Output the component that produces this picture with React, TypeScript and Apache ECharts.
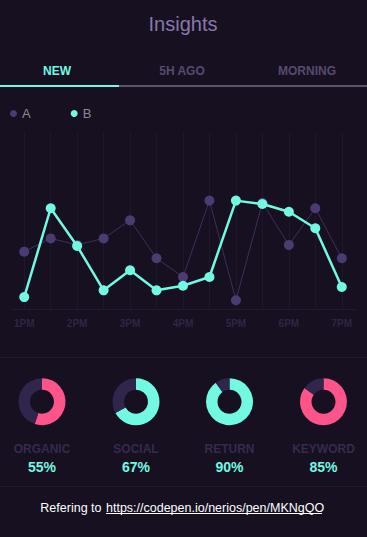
import React, { useEffect, useRef } from "react";
import * as echarts from "echarts";

const categories = ["1PM", "1:30PM", "2PM", "2:30PM", "3PM", "3:30PM", "4PM", "4:30PM", "5PM", "5:30PM", "6PM", "6:30PM", "7PM"];
const seriesA = [32.5, 40, 36.3, 40, 50.2, 28.8, 18.2, 61.3, 5.1, 60.1, 36.3, 57, 28.8];
const seriesB = [6.9, 57, 35.7, 10.7, 22, 10.7, 13.3, 18.2, 61.3, 59.4, 55, 45.7, 12.6];
const tabs = ["NEW", "5H AGO", "MORNING"];
const donutNames = ["ORGANIC", "SOCIAL", "RETURN", "KEYWORD"];
const donutValues = [55, 67, 90, 85];
const donutColors = ["#fd5489", "#72f9e1", "#72f9e1", "#fd5489"];

const BG = "#161021";
const TEAL = "#72f9e1";
const FONT = "Arial, 'Liberation Sans', Helvetica, sans-serif";

export default function App() {
  const ref = useRef<HTMLDivElement>(null);
  useEffect(() => {
    const chart = echarts.init(ref.current!, null, { renderer: "svg" });
    const donutX = [42, 136, 229.5, 323.5];
    const donutY = 401.7;
    const tabX = [57, 182, 307];

    const graphics: any[] = [
      {
        type: "text", x: 183, y: 24,
        style: { text: "Insights", fill: "#8a78a8", font: `normal 20px ${FONT}`, textAlign: "center", textVerticalAlign: "middle" },
      },
      ...tabs.map((t, i) => ({
        type: "text", x: tabX[i], y: 71,
        style: { text: t, fill: i === 0 ? TEAL : "#594a70", font: `bold 12px ${FONT}`, textAlign: "center", textVerticalAlign: "middle" },
      })),
      { type: "rect", shape: { x: 119, y: 85, width: 248, height: 2 }, style: { fill: "#5e5270" } },
      { type: "rect", shape: { x: 0, y: 85, width: 119, height: 2 }, style: { fill: TEAL } },
      { type: "line", shape: { x1: 0, y1: 357.5, x2: 367, y2: 357.5 }, style: { stroke: "#221a33", lineWidth: 1 } },
      { type: "line", shape: { x1: 0, y1: 486.5, x2: 367, y2: 486.5 }, style: { stroke: "#221a33", lineWidth: 1 } },
      ...donutNames.map((n, i) => ({
        type: "text", x: donutX[i], y: 448.5,
        style: { text: n, fill: "#352b4d", font: `bold 12px ${FONT}`, textAlign: "center", textVerticalAlign: "middle" },
      })),
      ...donutValues.map((v, i) => ({
        type: "text", x: donutX[i], y: 466.5,
        style: { text: v + "%", fill: TEAL, font: `bold 14px ${FONT}`, textAlign: "center", textVerticalAlign: "middle" },
      })),
      {
        type: "text", x: 101.5, y: 508,
        style: { text: "Refering to", fill: "#ffffff", font: `normal 12.5px ${FONT}`, textAlign: "right", textVerticalAlign: "middle" },
      },
      {
        type: "text", x: 106, y: 508,
        style: { text: "https://codepen.io/nerios/pen/MKNgQO", fill: "#ffffff", font: `normal 12.5px ${FONT}`, textAlign: "left", textVerticalAlign: "middle" },
      },
      { type: "line", shape: { x1: 106, y1: 513.5, x2: 322, y2: 513.5 }, style: { stroke: "#ffffff", lineWidth: 1 } },
    ];

    const pies = donutValues.map((v, i) => ({
      type: "pie",
      center: [donutX[i], donutY],
      radius: [12, 23.5],
      startAngle: 90,
      clockwise: true,
      silent: true,
      label: { show: false },
      labelLine: { show: false },
      itemStyle: { borderWidth: 0 },
      data: [
        { value: v, itemStyle: { color: donutColors[i] } },
        { value: 100 - v, itemStyle: { color: "#30254b" } },
      ],
    }));

    chart.setOption({
      animation: false,
      backgroundColor: BG,
      textStyle: { fontFamily: FONT },
      legend: {
        left: 5, top: 102, icon: "circle", itemWidth: 7, itemHeight: 7, itemGap: 40,
        textStyle: { color: "#8b8896", fontSize: 13, fontFamily: FONT },
        data: ["A", "B"],
      },
      grid: { left: 11, right: 12, top: 132, height: 177.3 },
      xAxis: {
        type: "category",
        data: categories,
        boundaryGap: true,
        axisLine: { lineStyle: { color: "#221a33", width: 1 } },
        axisTick: { show: false },
        axisLabel: { interval: 1, color: "#2f2645", fontWeight: "bold", fontSize: 10, margin: 9, fontFamily: FONT },
        splitLine: { show: true, interval: 0, alignWithLabel: true, lineStyle: { color: "#1e182c", width: 1 } },
      },
      yAxis: { type: "value", min: 0, max: 100, show: false, splitLine: { show: false } },
      series: [
        {
          name: "A", type: "line", data: seriesA, symbol: "circle", symbolSize: 10,
          itemStyle: { color: "#4b3b70" }, lineStyle: { color: "#3e305c", width: 1 }, z: 2,
        },
        {
          name: "B", type: "line", data: seriesB, symbol: "circle", symbolSize: 10,
          itemStyle: { color: TEAL }, lineStyle: { color: TEAL, width: 2.5 }, z: 3,
        },
        ...pies,
      ],
      graphic: graphics,
    });
    return () => chart.dispose();
  }, []);
  return <div ref={ref} style={{ position: "fixed", left: 0, top: 0, width: 367, height: 537 }} />;
}
